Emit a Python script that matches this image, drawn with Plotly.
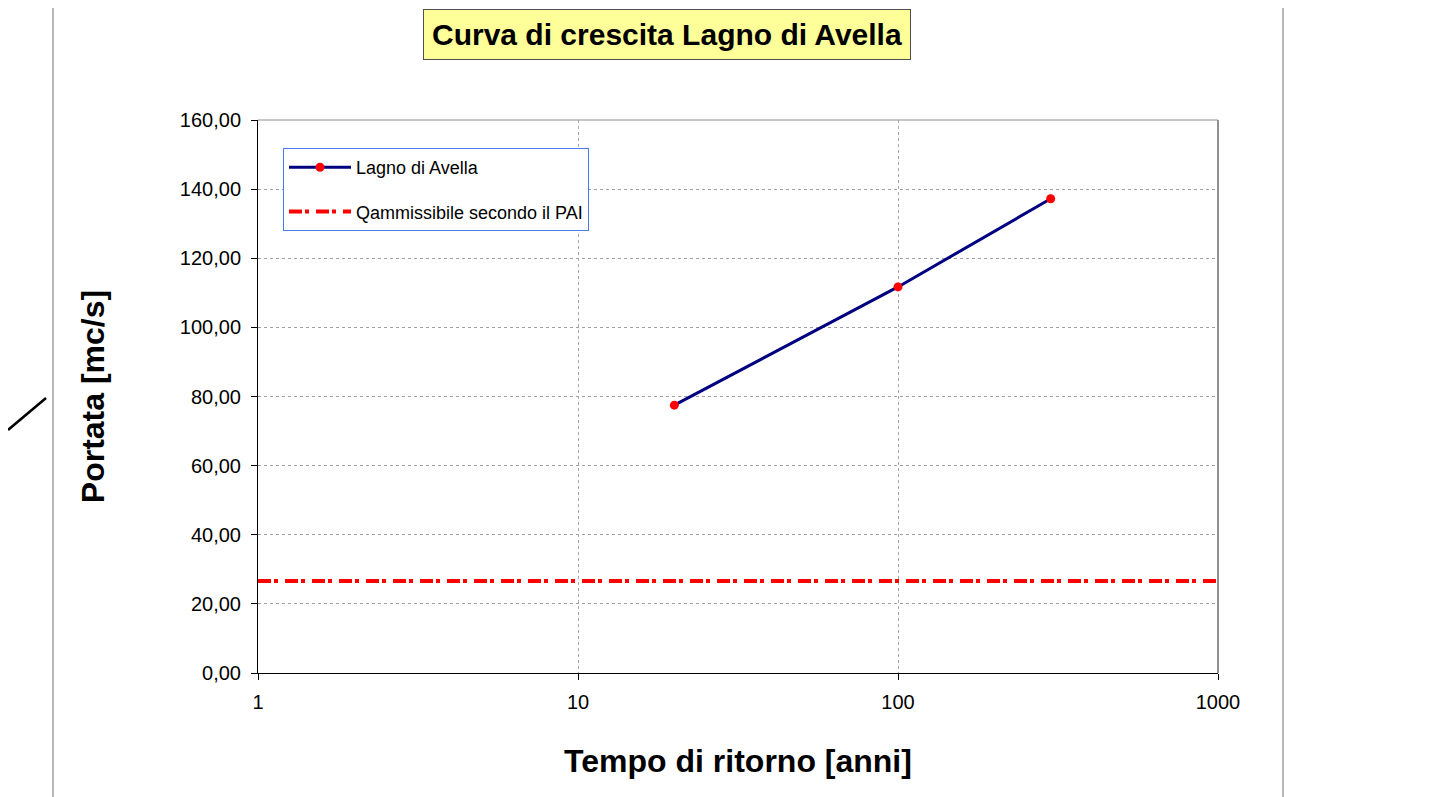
import plotly.graph_objects as go

# ---- data ----
return_periods = [20, 100, 300]
discharge = [77.5, 111.7, 137.2]
pai_x = [1, 1000]
pai_q = [26.6, 26.6]
x_tickvals = [1, 10, 100, 1000]
x_ticktext = ["1", "10", "100", "1000"]
y_tickvals = [0, 20, 40, 60, 80, 100, 120, 140, 160]

series_name = "Lagno di Avella"
pai_name = "Qammissibile secondo il PAI"
title_text = "Curva di crescita Lagno di Avella"
x_title = "Tempo di ritorno [anni]"
y_title = "Portata [mc/s]"

OFF = 8  # page body margin offset
W, H = 1439 - OFF, 797 - OFF
# plot area bounds in reference-page pixels
L, R, T, B = 258, 1218, 120, 673


def px(xp):
    return (xp - L) / (R - L)


def py(yp):
    return (B - yp) / (B - T)


fig = go.Figure()
fig.add_trace(go.Scatter(
    x=return_periods, y=discharge, name=series_name, mode="lines+markers",
    line=dict(color="#000080", width=3),
    marker=dict(color="#ff0000", size=9, symbol="circle"),
    legendgroup="a",
))
fig.add_trace(go.Scatter(
    x=pai_x, y=pai_q, name=pai_name, mode="lines",
    line=dict(color="#ff0000", width=4, dash="13px,3px,4px,7px"),
    legendgroup="b",
))

font_main = "Arial, Liberation Sans, sans-serif"

fig.update_layout(
    width=W, height=H,
    margin=dict(l=L - OFF, r=(W + OFF) - R, t=T - OFF, b=(H + OFF) - B, pad=0),
    paper_bgcolor="white", plot_bgcolor="white",
    separators=",.",
    showlegend=True,
    legend=dict(
        x=px(283), y=py(148), xanchor="left", yanchor="top",
        bgcolor="white", bordercolor="#4a7be8", borderwidth=1,
        font=dict(family=font_main, size=18, color="black"),
        itemwidth=62, tracegroupgap=18, entrywidth=349,
    ),
    xaxis=dict(
        type="log", range=[0, 3],
        tickvals=x_tickvals, ticktext=x_ticktext,
        showgrid=True, gridcolor="#a8a8a8", griddash="3px,3px", gridwidth=1,
        showline=True, linecolor="black", linewidth=1,
        ticks="outside", ticklen=6, tickcolor="black", ticklabelstandoff=5,
        tickfont=dict(family=font_main, size=20, color="black"),
        title=dict(text="<b>" + x_title + "</b>",
                   font=dict(family=font_main, size=32, color="black"), standoff=37),
        zeroline=False,
    ),
    yaxis=dict(
        range=[0, 160], tickvals=y_tickvals, tickformat=".2f",
        showgrid=True, gridcolor="#a0a0a0", griddash="3px,3px", gridwidth=1,
        showline=True, linecolor="black", linewidth=1,
        ticks="outside", ticklen=6, tickcolor="black", ticklabelstandoff=6,
        tickfont=dict(family=font_main, size=20, color="black"),
        title=dict(text="<b>" + y_title + "</b>",
                   font=dict(family=font_main, size=32, color="black"), standoff=65),
        zeroline=False,
    ),
    shapes=[
        dict(type="line", xref="paper", yref="paper", x0=0, x1=1, y0=1, y1=1,
             line=dict(color="#909090", width=1)),
        dict(type="line", xref="paper", yref="paper", x0=1, x1=1, y0=0, y1=1,
             line=dict(color="#909090", width=2)),
        dict(type="line", xref="paper", yref="paper", x0=px(53), x1=px(53), y0=py(0), y1=py(797),
             line=dict(color="#707070", width=1)),
        dict(type="line", xref="paper", yref="paper", x0=px(1283), x1=px(1283), y0=py(0), y1=py(797),
             line=dict(color="#707070", width=1)),
        dict(type="line", xref="paper", yref="paper", x0=px(8), x1=px(46), y0=py(430), y1=py(398),
             line=dict(color="black", width=2.5)),
    ],
    annotations=[
        dict(text="<b>" + title_text + "</b>", xref="paper", yref="paper",
             x=px(667), y=py(34), xanchor="center", yanchor="middle", showarrow=False,
             font=dict(family=font_main, size=30, color="black"),
             bgcolor="#ffff99", bordercolor="#505050", borderwidth=1, borderpad=8),
    ],
)

fig.write_html("out.html")
